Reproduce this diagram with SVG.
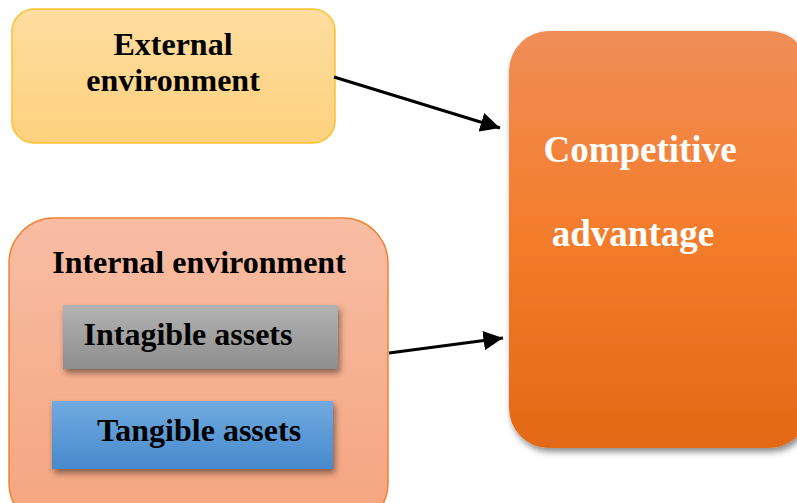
<svg xmlns="http://www.w3.org/2000/svg" width="797" height="503" viewBox="0 0 797 503">
<defs>
<linearGradient id="gExt" x1="0" y1="0" x2="0" y2="1"><stop offset="0" stop-color="#FEDD9F"/><stop offset="1" stop-color="#FDD17E"/></linearGradient>
<linearGradient id="gComp" x1="0" y1="0" x2="0" y2="1"><stop offset="0" stop-color="#F08D57"/><stop offset="0.45" stop-color="#F47E2E"/><stop offset="1" stop-color="#E36815"/></linearGradient>
<linearGradient id="gInt" x1="0" y1="0" x2="0" y2="1"><stop offset="0" stop-color="#F8BDA4"/><stop offset="1" stop-color="#F4A47E"/></linearGradient>
<linearGradient id="gGray" x1="0" y1="0" x2="0" y2="1"><stop offset="0" stop-color="#B3B3B3"/><stop offset="1" stop-color="#8D8D8D"/></linearGradient>
<linearGradient id="gBlue" x1="0" y1="0" x2="0" y2="1"><stop offset="0" stop-color="#70AADF"/><stop offset="1" stop-color="#478ACD"/></linearGradient>
<filter id="sh" x="-10%" y="-10%" width="125%" height="130%"><feDropShadow dx="2" dy="4" stdDeviation="3" flood-color="#000" flood-opacity="0.45"/></filter>
<marker id="arr" viewBox="0 0 10 10" refX="10" refY="5" markerWidth="6.5" markerHeight="6.5" orient="auto" markerUnits="strokeWidth"><path d="M0,0 L10,5 L0,10 z" fill="#000"/></marker>
<style>
text{font-family:"Liberation Serif","Times New Roman",serif;font-weight:bold;text-anchor:middle}
.d{fill:#000;font-size:32px}
.w{fill:#fff;font-size:37px}
.ln{stroke:#000;stroke-width:3;fill:none}
</style>
</defs>
<g id="external">
<rect x="12" y="9" width="323" height="134" rx="22" fill="url(#gExt)" stroke="#FCC130" stroke-width="1.5"/>
<text class="d" x="173" y="55">External</text>
<text class="d" x="173" y="91">environment</text>
</g>
<g id="competitive">
<rect x="509" y="31" width="300" height="417" rx="40" fill="url(#gComp)" filter="url(#sh)"/>
<text class="w" x="640" y="162">Competitive</text>
<text class="w" x="633" y="246">advantage</text>
</g>
<g id="internal">
<rect x="9" y="218" width="379" height="310" rx="45" fill="url(#gInt)" stroke="#F08234" stroke-width="1.5"/>
<text class="d" x="199" y="273">Internal environment</text>
<g id="intangible">
<rect x="63" y="305" width="275" height="64" fill="url(#gGray)" filter="url(#sh)"/>
<text class="d" x="188" y="345">Intagible assets</text>
</g>
<g id="tangible">
<rect x="52" y="401" width="281" height="68" fill="url(#gBlue)" filter="url(#sh)"/>
<text class="d" x="199" y="441">Tangible assets</text>
</g>
</g>
<g id="connectors">
<line class="ln" x1="334" y1="77" x2="500" y2="128" marker-end="url(#arr)"/>
<line class="ln" x1="389" y1="353" x2="503" y2="338" marker-end="url(#arr)"/>
</g>
</svg>
